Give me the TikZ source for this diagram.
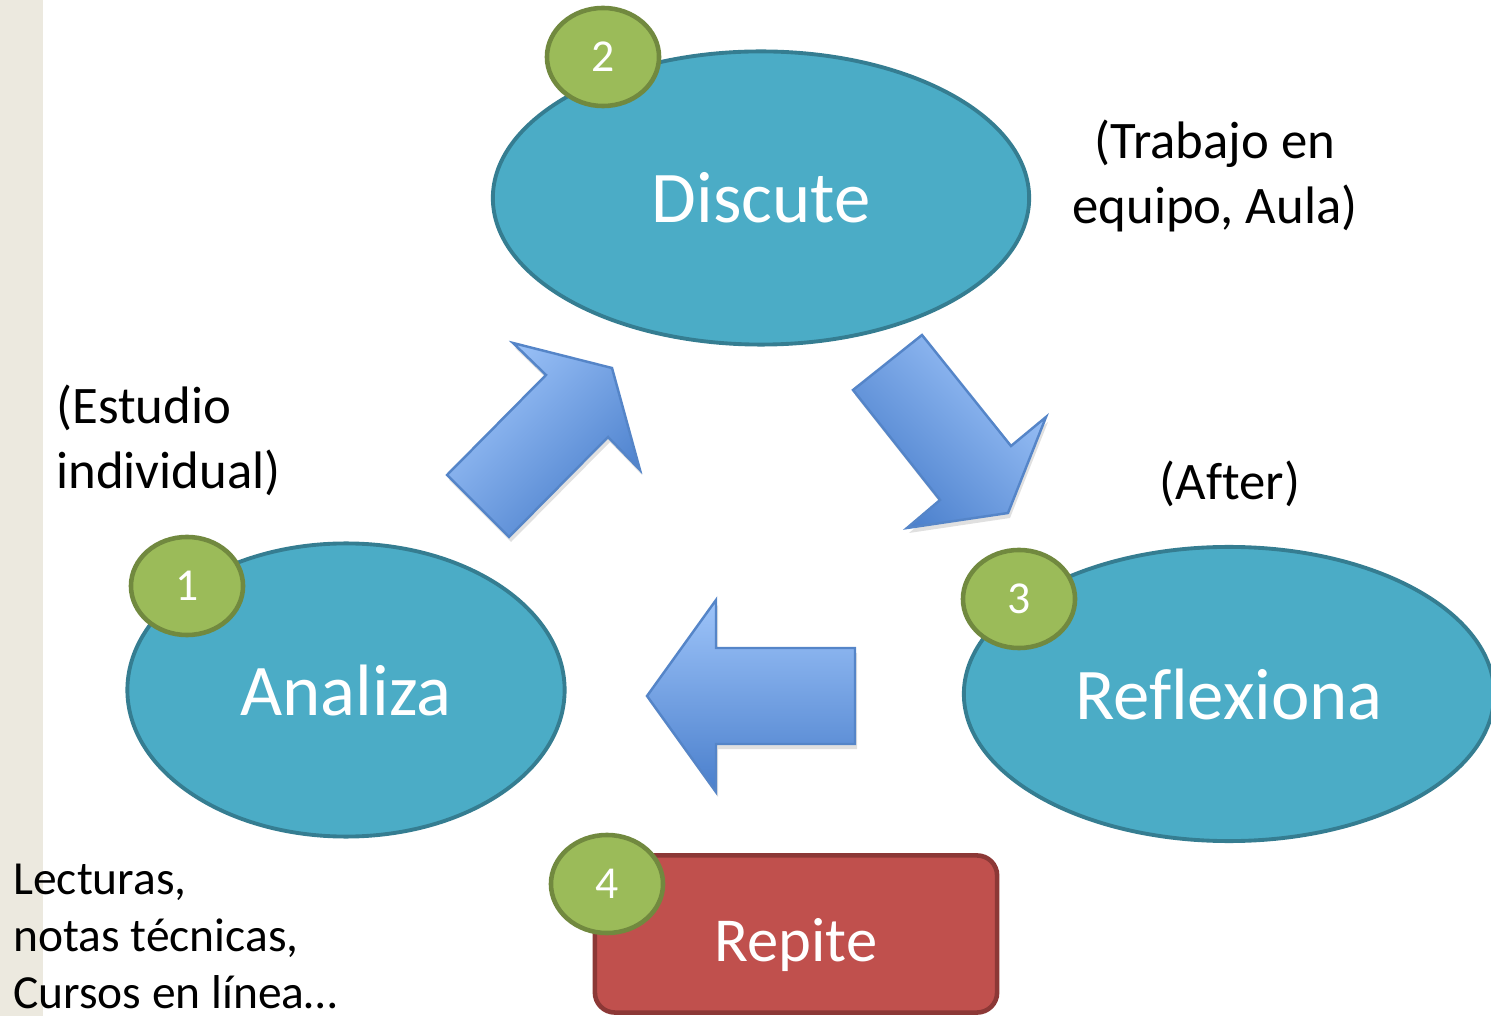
\documentclass[tikz,border=0pt]{standalone}
\usepackage{fontspec}
\setmainfont{Carlito}[Ligatures={NoCommon,NoContextual,NoRare}, RawFeature={-liga;-clig;-calt}]
\usetikzlibrary{shapes.geometric}
\definecolor{fase}{HTML}{4BACC6}
\definecolor{faseborde}{HTML}{357D91}
\definecolor{numfill}{HTML}{9BBB59}
\definecolor{numborde}{HTML}{71893F}
\definecolor{repfill}{HTML}{C0504D}
\definecolor{repborde}{HTML}{8C3836}
\definecolor{flechaclaro}{HTML}{9EC4F9}
\definecolor{flechaoscuro}{HTML}{4A7FCC}
\definecolor{flechaborde}{HTML}{5585C8}
\definecolor{franja}{HTML}{ECE9DF}
\begin{document}
\begin{tikzpicture}[x=0.01cm, y=-0.01cm, thick,
    fase/.style = {draw=faseborde, line width=1.1pt, fill=fase, ellipse, inner sep=0pt,
        text=white, font=\fontsize{20.7}{25}\selectfont},
    num/.style = {draw=numborde, line width=1.3pt, fill=numfill, ellipse, inner sep=0pt,
        minimum width=1.12cm, minimum height=0.98cm, text=white, font=\fontsize{13}{15}\selectfont},
    repbox/.style = {draw=repborde, line width=1.3pt, fill=repfill, rounded corners=0.2cm,
        inner sep=0pt, minimum width=4.02cm, minimum height=1.57cm, text height=0.65cm, text=white,
        font=\fontsize{17.8}{21}\selectfont},
    flecha/.style = {draw=flechaborde, line width=0.7pt, top color=flechaclaro, bottom color=flechaoscuro},
    sombra/.style = {fill=black, opacity=0.12},
    nota/.style = {font=\fontsize{15}{18.5}\selectfont, inner sep=0pt}]
    \useasboundingbox (0,0) rectangle (1491,1016);
    \clip (0,0) rectangle (1491,1016);
    \fill[franja] (0,0) rectangle (43,1016);

    % fases
    \node[fase, minimum width=5.36cm, minimum height=2.93cm] (2) at (761,198) {Discute};
    \node[fase, minimum width=4.37cm, minimum height=2.93cm] (1) at (346,690) {Analiza};
    \node[fase, minimum width=5.3cm, minimum height=2.94cm] (3) at (1229,694) {Reflexiona};
    \node[repbox] (4) at (796,934) {Repite};

    % numeros
    \node[num] (n1) at (187,586) {1};
    \node[num] (n2) at (603,57) {2};
    \node[num] (n3) at (1019,599) {3};
    \node[num] (n4) at (607,884) {4};

    % flechas
    \fill[sombra, shift={(2,5)}] (447,475) -- (509,537) -- (608,437) -- (640,470) -- (612,368) -- (513,343) -- (546,375) -- cycle;
    \draw[flecha, shading angle=45] (447,475) -- (509,537) -- (608,437) -- (640,470) -- (612,368) -- (513,343) -- (546,375) -- cycle;
    \fill[sombra, shift={(2,5)}] (922,335) -- (1011,446) -- (1046,417) -- (1008,513) -- (907,528) -- (940,500) -- (853,390) -- cycle;
    \draw[flecha, shading angle=-45] (922,335) -- (1011,446) -- (1046,417) -- (1008,513) -- (907,528) -- (940,500) -- (853,390) -- cycle;
    \fill[sombra, shift={(2,5)}] (647,696) -- (716,600) -- (716,648) -- (855,648) -- (855,744) -- (716,744) -- (716,792) -- cycle;
    \draw[flecha] (647,696) -- (716,600) -- (716,648) -- (855,648) -- (855,744) -- (716,744) -- (716,792) -- cycle;

    % notas
    \node[nota, align=center] (t2) at (1215,176) {(Trabajo en\\equipo, Aula)};
    \node[nota, align=left, anchor=west] (t1) at (55,440) {(Estudio\\individual)};
    \node[nota] (t3) at (1230,484) {(After)};
    \node[align=left, anchor=west, inner sep=0pt, font=\fontsize{13.5}{16.2}\selectfont] (t4) at (12,936)
        {Lecturas,\\notas técnicas,\\Cursos en línea…};
\end{tikzpicture}
\end{document}
